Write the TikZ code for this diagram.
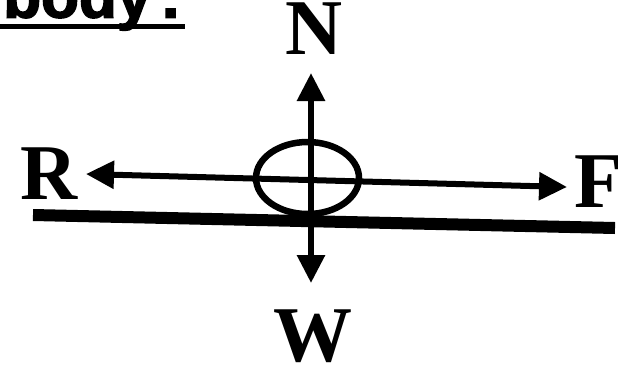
\documentclass[tikz,border=0pt]{standalone}
\usepackage{fontspec}
\setmainfont{Liberation Serif}
\newfontfamily\headfont[BoldFeatures={FakeBold=2.5}]{Liberation Sans}
\usetikzlibrary{arrows.meta}
\tikzset{
  lbl/.style={inner sep=0pt, outer sep=0pt, font=\bfseries\fontsize{79}{80}\selectfont},
  both/.style={line width=6pt, {Triangle[length=28pt,width=27pt]}-{Triangle[length=28pt,width=27pt]}},
}
\begin{document}
\begin{tikzpicture}[x=1pt,y=-1pt]
\useasboundingbox (0,0) rectangle (618,365);
% heading
\node[anchor=base west, inner sep=0pt, font=\headfont\bfseries\fontsize{62}{64}\selectfont] (head) at (3,17.5) {body\kern9pt:};
\draw[line width=4.5pt] (0,26.5) coordinate (ul1) -- (185,26.5) coordinate (ul2);
% labels
\node[lbl] (N) at (314,29) {N};
\node[lbl] (W) at (313,336) {W};
\node[lbl] (R) at (49,174) {R};
\node[lbl] (F) at (599,182) {F};
% tips
\coordinate (ntip) at (311,73);
\coordinate (wtip) at (311,283);
\coordinate (rtip) at (86,174);
\coordinate (ftip) at (567,187);
% ground
\draw[line width=12pt] (33,215) coordinate (g1) -- (615,228) coordinate (g2);
% body
\coordinate (obj) at (307.5,178);
\draw[line width=6.5pt] (obj) ellipse [x radius=51.5, y radius=36];
% forces
\draw[both] (wtip) -- (ntip);
\draw[both] (rtip) -- (ftip);
\end{tikzpicture}
\end{document}
